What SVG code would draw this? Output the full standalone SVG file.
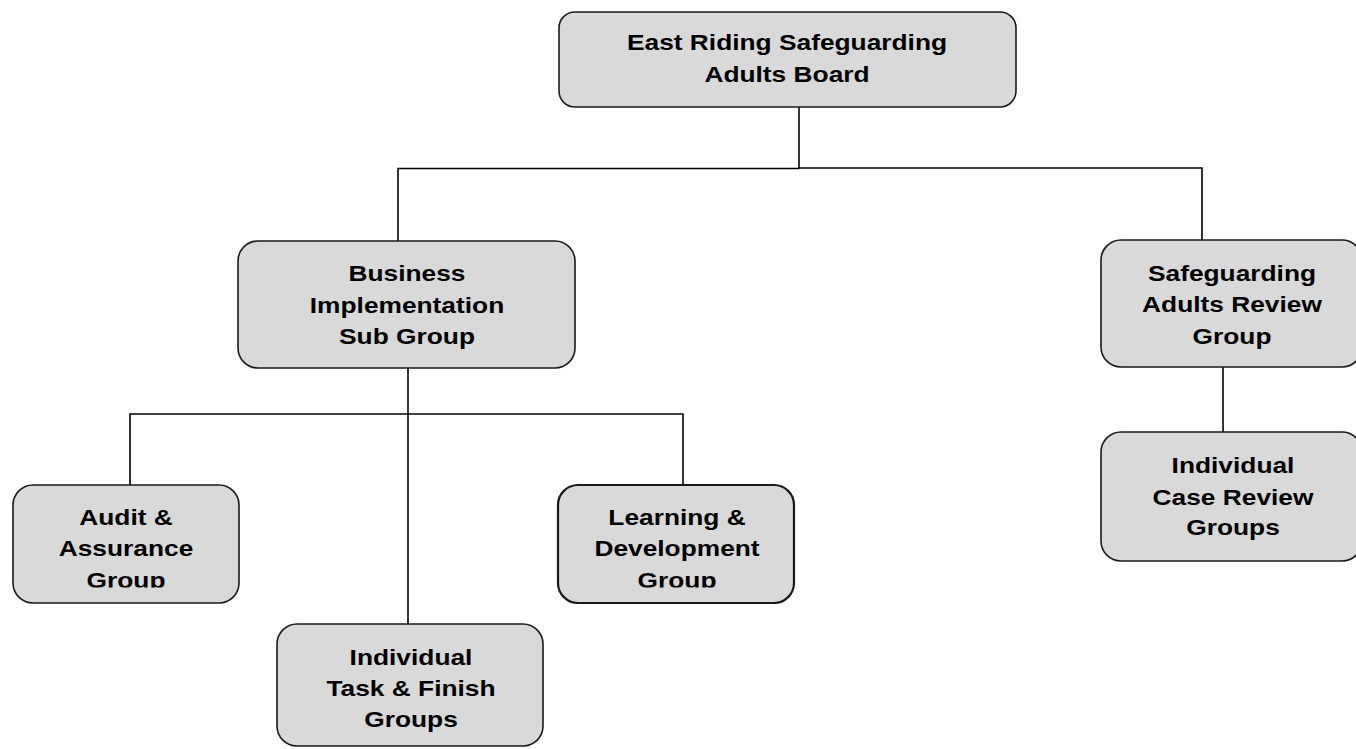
<svg xmlns="http://www.w3.org/2000/svg" width="1356" height="749" viewBox="0 0 1356 749">
<style>
.box{fill:#d9d9d9;stroke:#1a1a1a;stroke-width:1.6}
.thick{stroke-width:2.2}
.t{font-family:"Liberation Sans",Arial,sans-serif;font-weight:bold;font-size:22.5px;fill:#000;text-anchor:middle}
.c{fill:none;stroke:#000;stroke-width:1.6}
</style>
<defs>
<clipPath id="cut"><rect x="-300" y="500" width="600" height="87.5"/></clipPath>
</defs>
<g id="connectors">
<path class="c" d="M799 107 V168.5"/>
<path class="c" d="M398 241 V168.5 H799"/>
<path class="c" d="M799 168 H1202 V240"/>
<path class="c" d="M408 368 V625"/>
<path class="c" d="M130 486 V414 H683 V486"/>
<path class="c" d="M1223 367 V432"/>
</g>
<g id="board">
<rect class="box" x="559" y="12" width="457" height="95" rx="16"/>
<g transform="translate(787 0) scale(1.17 1)"><text class="t" x="0" y="50">East Riding Safeguarding</text><text class="t" x="0" y="82.5">Adults Board</text></g>
</g>
<g id="business">
<rect class="box" x="238" y="241" width="337" height="127" rx="20"/>
<g transform="translate(407 0) scale(1.17 1)"><text class="t" x="0" y="281.5">Business</text><text class="t" x="0" y="313">Implementation</text><text class="t" x="0" y="344.5">Sub Group</text></g>
</g>
<g id="sar">
<rect class="box" x="1101" y="240" width="261" height="127" rx="20"/>
<g transform="translate(1232 0) scale(1.17 1)"><text class="t" x="0" y="281">Safeguarding</text><text class="t" x="0" y="312.5">Adults Review</text><text class="t" x="0" y="344">Group</text></g>
</g>
<g id="audit">
<rect class="box" x="13" y="485" width="226" height="118" rx="20"/>
<g transform="translate(126 0) scale(1.17 1)"><text class="t" x="0" y="525">Audit &amp;</text><text class="t" x="0" y="556">Assurance</text><text class="t" x="0" y="588" clip-path="url(#cut)">Group</text></g>
</g>
<g id="learning">
<rect class="box thick" x="558" y="485" width="236" height="118" rx="20"/>
<g transform="translate(677 0) scale(1.17 1)"><text class="t" x="0" y="525">Learning &amp;</text><text class="t" x="0" y="556">Development</text><text class="t" x="0" y="588" clip-path="url(#cut)">Group</text></g>
</g>
<g id="taskfinish">
<rect class="box" x="277" y="624" width="266" height="122" rx="20"/>
<g transform="translate(411 0) scale(1.17 1)"><text class="t" x="0" y="665">Individual</text><text class="t" x="0" y="696">Task &amp; Finish</text><text class="t" x="0" y="727">Groups</text></g>
</g>
<g id="casereview">
<rect class="box" x="1101" y="432" width="261" height="129" rx="20"/>
<g transform="translate(1233 0) scale(1.17 1)"><text class="t" x="0" y="473">Individual</text><text class="t" x="0" y="505">Case Review</text><text class="t" x="0" y="535.5">Groups</text></g>
</g>
</svg>
